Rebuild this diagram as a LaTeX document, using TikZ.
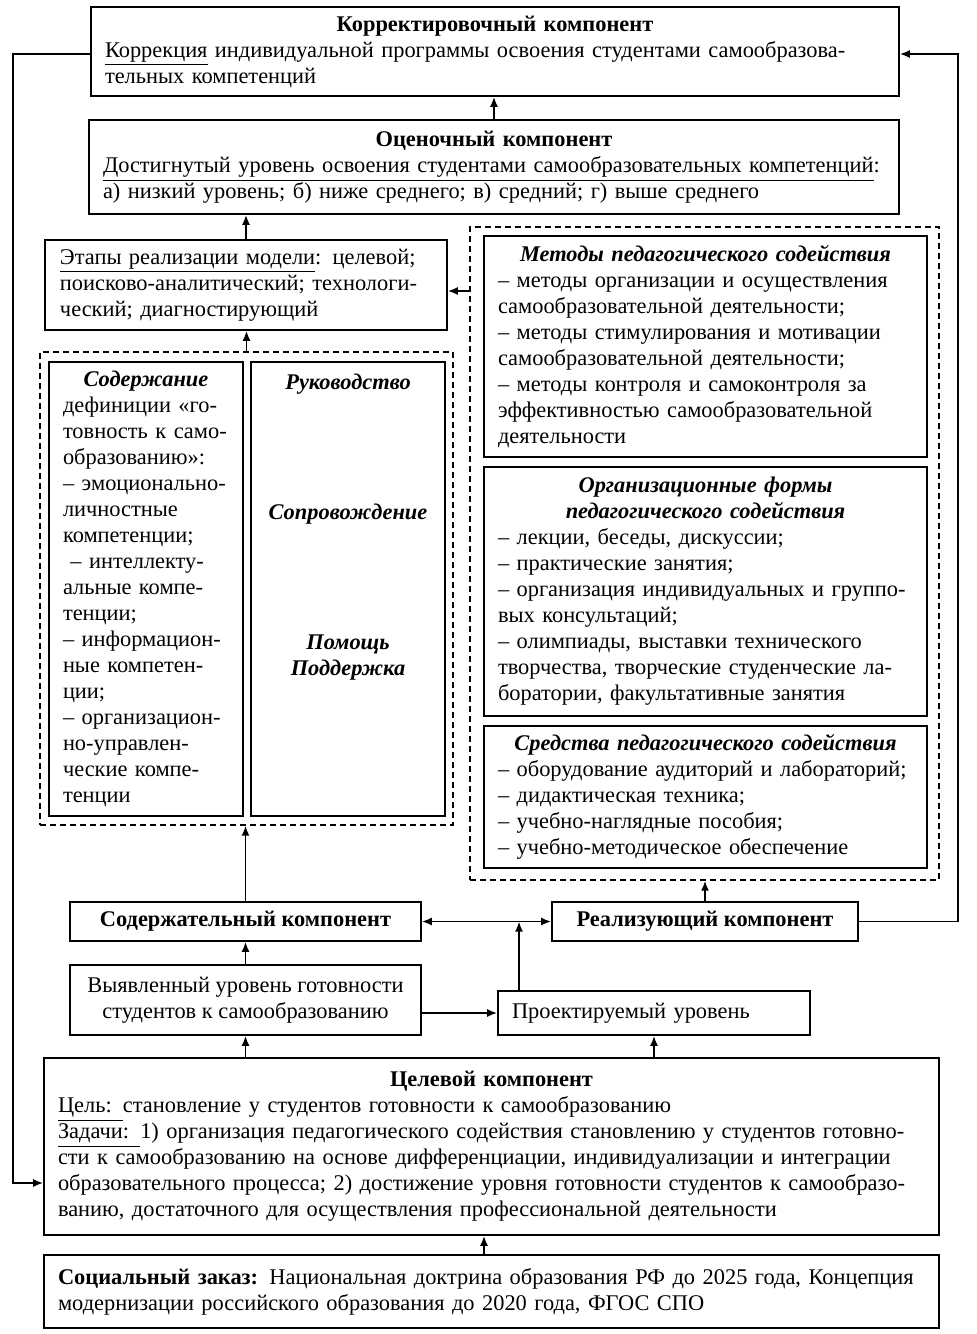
\documentclass[tikz,border=0pt]{standalone}
\usepackage{fontspec}
\setmainfont{Liberation Serif}
\usetikzlibrary{arrows.meta,positioning}
\tikzset{
  box/.style={draw, line width=0.8pt, inner sep=0pt, align=left,
    font=\fontsize{11.2pt}{13pt}\selectfont},
  grpbox/.style={draw, line width=0.7pt, dash pattern=on 3pt off 2pt, inner sep=0pt},
  arr/.style={line width=0.9pt, -{Latex[length=5pt,width=4pt]}},
  dblarr/.style={line width=0.9pt, {Latex[length=5pt,width=4pt]}-{Latex[length=5pt,width=4pt]}},
}
\newcommand{\ttl}[1]{\leavevmode\hbox to\hsize{\hss\bfseries #1\hss}\\}
\newcommand{\ttli}[1]{\leavevmode\hbox to\hsize{\hss\bfseries\itshape #1\hss}\\}
\begin{document}
\begin{tikzpicture}[x=0.5pt, y=-0.5pt]
\useasboundingbox (0,0) rectangle (976,1334);
% top part
\node[box, minimum width=404pt, minimum height=44.5pt, text width=390pt] (korr) at (495,51.5)
  {\ttl{Корректировочный компонент}\underline{Коррекция} индивидуальной программы освоения студентами самообразова-\\тельных компетенций};
\node[box, minimum width=405pt, minimum height=47pt, text width=391pt] (ocen) at (494,167)
  {\ttl{Оценочный компонент}\underline{Достигнутый уровень освоения студентами самообразовательных компетенций}:\\а) низкий уровень; б) ниже среднего; в) средний; г) выше среднего};
\node[box, minimum width=201pt, minimum height=45pt, text width=186pt] (etapy) at (246,285)
  {\underline{Этапы реализации модели}: целевой;\\поисково-аналитический; технологи-\\ческий; диагностирующий};
% left group
\node[grpbox, minimum width=206.5pt, minimum height=236.5pt] (leftgrp) at (246.5,588.5) {};
\node[box, minimum width=97pt, minimum height=227pt, text width=83pt] (soder) at (146,589)
  {\ttli{Содержание}дефиниции «го-\\товность к само-\\образованию»:\\– эмоционально-\\личностные\\компетенции;\\\ – интеллекту-\\альные компе-\\тенции;\\– информацион-\\ные компетен-\\ции;\\– организацион-\\но-управлен-\\ческие компе-\\тенции};
\node[box, minimum width=97pt, minimum height=227pt] (rukov) at (348,589) {};
\node[anchor=north, inner sep=0pt, align=center, font=\fontsize{11.2pt}{13pt}\selectfont\bfseries\itshape]
  (rukovtxt) at (348,374) {Руководство\\[52pt]Сопровождение\\[52pt]Помощь\\Поддержка};
% right group
\node[grpbox, minimum width=234.5pt, minimum height=326.5pt] (rightgrp) at (704.5,553.5) {};
\node[box, minimum width=221.5pt, minimum height=110.5pt, text width=207.5pt] (metody) at (705.5,346.5)
  {\ttli{Методы педагогического содействия}– методы организации и осуществления\\самообразовательной деятельности;\\– методы стимулирования и мотивации\\самообразовательной деятельности;\\– методы контроля и самоконтроля за\\эффективностью самообразовательной\\деятельности};
\node[box, minimum width=221.5pt, minimum height=124.5pt, text width=207.5pt] (formy) at (705.5,591.5)
  {\ttli{Организационные формы}\ttli{педагогического содействия}– лекции, беседы, дискуссии;\\– практические занятия;\\– организация индивидуальных и группо-\\вых консультаций;\\– олимпиады, выставки технического\\творчества, творческие студенческие ла-\\боратории, факультативные занятия};
\node[box, minimum width=221.5pt, minimum height=71pt, text width=207.5pt] (sredstva) at (705.5,797)
  {\ttli{Средства педагогического содействия}– оборудование аудиторий и лабораторий;\\– дидактическая техника;\\– учебно-наглядные пособия;\\– учебно-методическое обеспечение};
% bottom part
\node[box, align=center, minimum width=175.5pt, minimum height=19.5pt] (soderk) at (245.5,921.5)
  {\textbf{Содержательный компонент}};
\node[box, align=center, minimum width=153pt, minimum height=19.5pt] (realk) at (705,921.5)
  {\textbf{Реализующий компонент}};
\node[box, align=center, minimum width=175.5pt, minimum height=35pt] (vyyavl) at (245.5,1000)
  {Выявленный уровень готовности\\студентов к самообразованию};
\node[box, minimum width=156pt, minimum height=22pt, text width=142pt] (proekt) at (654,1013)
  {Проектируемый уровень};
\node[box, minimum width=447.5pt, minimum height=88.5pt, text width=433.5pt] (celev) at (491.5,1146.5)
  {\ttl{Целевой компонент}\underline{Цель: }становление у студентов готовности к самообразованию\\\underline{Задачи: }1) организация педагогического содействия становлению у студентов готовно-\\сти к самообразованию на основе дифференциации, индивидуализации и интеграции\\образовательного процесса; 2) достижение уровня готовности студентов к самообразо-\\ванию, достаточного для осуществления профессиональной деятельности};
\node[box, minimum width=447.5pt, minimum height=36.5pt, text width=433.5pt] (social) at (491.5,1291.5)
  {\textbf{Социальный заказ:} Национальная доктрина образования РФ до 2025 года, Концепция\\модернизации российского образования до 2020 года, ФГОС СПО};
% connectors
\coordinate (lfttop) at (13,54);
\coordinate (lftbot) at (13,1183);
\draw[arr] (korr.west |- lfttop) -- (lfttop) -- (lftbot) -- (celev.west |- lftbot);
\coordinate (rgttop) at (958,54);
\draw[arr] (realk.east) -| (rgttop) -- (korr.east |- rgttop);
\draw[arr] (ocen.north) -- (ocen.north |- korr.south);
\draw[arr] (etapy.north) -- (etapy.north |- ocen.south);
\draw[arr] (leftgrp.north) -- (leftgrp.north |- etapy.south);
\draw[arr] ([yshift=-3pt]rightgrp.west |- etapy.east) -- ([yshift=-3pt]etapy.east);
\draw[arr] (soderk.north) -- (soderk.north |- leftgrp.south);
\draw[arr] (realk.north) -- (realk.north |- rightgrp.south);
\draw[dblarr] (soderk.east) -- (realk.west);
\draw[arr] (vyyavl.north) -- (soderk.south);
\draw[arr] (vyyavl.east |- proekt.west) -- (proekt.west);
\coordinate (proektup) at (519,921.5);
\draw[arr] (proekt.north -| proektup) -- (proektup);
\draw[arr] (vyyavl.south |- celev.north) -- (vyyavl.south);
\draw[arr] (proekt.south |- celev.north) -- (proekt.south);
\draw[arr] ([xshift=-3.75pt]social.north) -- ([xshift=-3.75pt]social.north |- celev.south);
\end{tikzpicture}
\end{document}
